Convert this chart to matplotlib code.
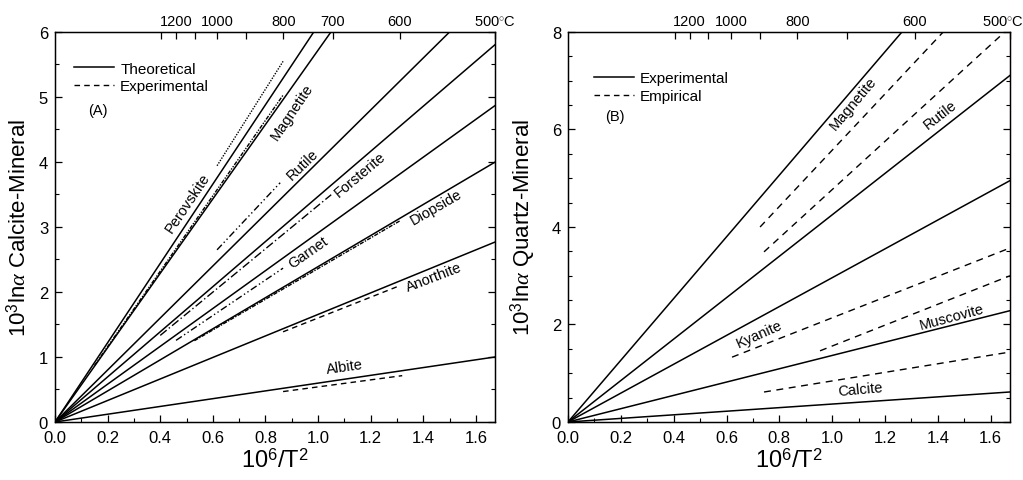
import numpy as np
import matplotlib
matplotlib.use('Agg')
import matplotlib.pyplot as plt
from matplotlib.lines import Line2D

plt.rcParams['font.family'] = ['Liberation Sans', 'DejaVu Sans']
plt.rcParams['mathtext.fontset'] = 'custom'
plt.rcParams['mathtext.rm'] = 'Liberation Sans'
plt.rcParams['mathtext.it'] = 'Liberation Serif:italic'

# x max = 10^6/T^2 at 500 C
XMAX = 1e6 / (500 + 273.15) ** 2

# ---- panel A: calcite-mineral (theoretical lines through origin: 10^3 ln a = A * 10^6/T^2)
a_minerals = ['Perovskite', 'Magnetite', 'Rutile', 'Forsterite', 'Garnet',
              'Diopside', 'Anorthite', 'Albite']
a_theory_slope = [6.10, 5.72, 4.00, 3.47, 2.91, 2.39, 1.655, 0.598]
a_exp_slope = [6.40, 5.80, 4.30, 3.33, 2.73, 2.36, 1.60, 0.54]
a_exp_xmin = [0.616, 0.15, 0.616, 0.40, 0.46, 0.53, 0.867, 0.867]
a_exp_xmax = [0.867, 0.867, 0.856, 1.05, 0.867, 1.31, 1.31, 1.32]

# ---- panel B: quartz-mineral
b_minerals = ['Magnetite', 'Rutile', 'Kyanite', 'Muscovite', 'Calcite']
b_exp_slope = [6.33, 4.25, 2.96, 1.365, 0.368]
b_emp_x0 = [0.727, 0.742, 0.621, 0.954, 0.742]
b_emp_x1 = [1.42, 1.673, 1.673, 1.673, 1.673]
b_emp_y0 = [4.00, 3.49, 1.33, 1.46, 0.615]
b_emp_y1 = [8.00, 8.10, 3.57, 3.00, 1.435]

# top temperature axis (deg C)
temp_ticks = [1300, 1200, 1100, 1000, 900, 800, 700, 600, 500]
a_temp_labels = ['', '1200', '', '1000', '', '800', '700', '600', '']
b_temp_labels = ['', '1200', '', '1000', '', '800', '', '600', '']
end_label = r'500$^{\circ}$C'

a_styles = [(0, (1, 1)), (0, (3, 1, 1, 1, 1, 1)), (0, (5, 2, 1, 2, 1, 2)),
            (0, (6, 2, 1, 2)), (0, (5, 2, 1, 2, 1, 2)), (0, (3, 1, 1, 1)),
            (0, (4, 3)), (0, (4, 3))]

fig = plt.figure(figsize=(10.23, 4.81), dpi=100)
axA = fig.add_axes([0.0538, 0.1206, 0.4301, 0.8108])
axB = fig.add_axes([0.5552, 0.1206, 0.4321, 0.8108])

xx = np.array([0, XMAX])


def style_axes(ax, ymax, ymajor, labels, end_shift):
    ax.set_xlim(0, XMAX)
    ax.set_ylim(0, ymax)
    ax.set_xticks(np.arange(0, 1.61, 0.2))
    ax.set_xticks(np.arange(0, 1.67, 0.1), minor=True)
    ax.set_yticks(np.arange(0, ymax + 0.01, ymajor))
    ax.set_yticks(np.arange(0, ymax + 0.01, 0.5), minor=True)
    ax.xaxis.set_major_formatter(plt.FormatStrFormatter('%.1f'))
    ax.yaxis.set_major_formatter(plt.FormatStrFormatter('%d'))
    ax.tick_params(which='both', direction='in', right=True, labelsize=12)
    ax.tick_params(which='major', length=5, width=0.9)
    ax.tick_params(which='minor', length=3, width=0.8)
    ax.tick_params(axis='x', pad=6)
    ax.tick_params(axis='y', pad=5)
    ax.set_xlabel(r'10$^6$/T$^2$', fontsize=17, labelpad=2)
    for s in ax.spines.values():
        s.set_linewidth(1.0)
    top = ax.twiny()
    top.set_xlim(0, XMAX)
    top.set_xticks([1e6 / (t + 273.15) ** 2 for t in temp_ticks])
    top.set_xticklabels(labels, fontsize=10.5)
    top.tick_params(direction='in', length=5, width=0.9, pad=3)
    # last temperature label placed by hand so it stays inside the figure
    ax.annotate(end_label, xy=(1.0, 1.0), xycoords='axes fraction',
                xytext=(end_shift, 3), textcoords='offset points',
                ha='center', va='bottom', fontsize=10.5)
    return top


# panel A
for i, m in enumerate(a_minerals):
    axA.plot(xx, a_theory_slope[i] * xx, color='k', lw=1.1)
    xs = np.array([a_exp_xmin[i], a_exp_xmax[i]])
    axA.plot(xs, a_exp_slope[i] * xs, color='k', lw=1.0, linestyle=a_styles[i])

a_label_pos = {'Perovskite': (0.506, 3.38, 56), 'Magnetite': (0.90, 4.78, 56),
               'Rutile': (0.94, 3.97, 44), 'Forsterite': (1.16, 3.82, 40),
               'Garnet': (0.963, 2.61, 35), 'Diopside': (1.45, 3.31, 30),
               'Anorthite': (1.44, 2.23, 21), 'Albite': (1.10, 0.85, 8)}
for m, (x, y, r) in a_label_pos.items():
    axA.text(x, y, m, rotation=r, ha='center', va='center', fontsize=10.5,
             rotation_mode='anchor')

style_axes(axA, 6, 1, a_temp_labels, 0)
axA.set_ylabel(r'10$^3$ln$\alpha$ Calcite-Mineral', fontsize=16, labelpad=6)
hA = [Line2D([], [], color='k', lw=1.1), Line2D([], [], color='k', lw=1.0, ls=(0, (4, 3)))]
axA.legend(hA, ['Theoretical', 'Experimental'], loc='upper left', frameon=False,
           bbox_to_anchor=(0.03, 0.94), fontsize=11, handlelength=2.6,
           handletextpad=0.4, labelspacing=0.25, borderaxespad=0)
axA.text(0.075, 0.80, '(A)', transform=axA.transAxes, fontsize=10.5, va='center')

# panel B
for i, m in enumerate(b_minerals):
    axB.plot(xx, b_exp_slope[i] * xx, color='k', lw=1.1)
    axB.plot([b_emp_x0[i], b_emp_x1[i]], [b_emp_y0[i], b_emp_y1[i]], color='k',
             lw=1.0, linestyle=(0, (5, 4)))

b_label_pos = {'Magnetite': (1.08, 6.55, 50), 'Rutile': (1.41, 6.32, 38),
               'Kyanite': (0.723, 1.81, 24), 'Muscovite': (1.453, 2.17, 15),
               'Calcite': (1.105, 0.68, 5)}
for m, (x, y, r) in b_label_pos.items():
    axB.text(x, y, m, rotation=r, ha='center', va='center', fontsize=10.5,
             rotation_mode='anchor')

style_axes(axB, 8, 2, b_temp_labels, -5)
axB.set_ylabel(r'10$^3$ln$\alpha$ Quartz-Mineral', fontsize=16, labelpad=10)
hB = [Line2D([], [], color='k', lw=1.1), Line2D([], [], color='k', lw=1.0, ls=(0, (4, 3)))]
axB.legend(hB, ['Experimental', 'Empirical'], loc='upper left', frameon=False,
           bbox_to_anchor=(0.045, 0.915), fontsize=11, handlelength=2.6,
           handletextpad=0.4, labelspacing=0.25, borderaxespad=0)
axB.text(0.085, 0.785, '(B)', transform=axB.transAxes, fontsize=10.5, va='center')

fig.savefig('out.png', dpi=100)
